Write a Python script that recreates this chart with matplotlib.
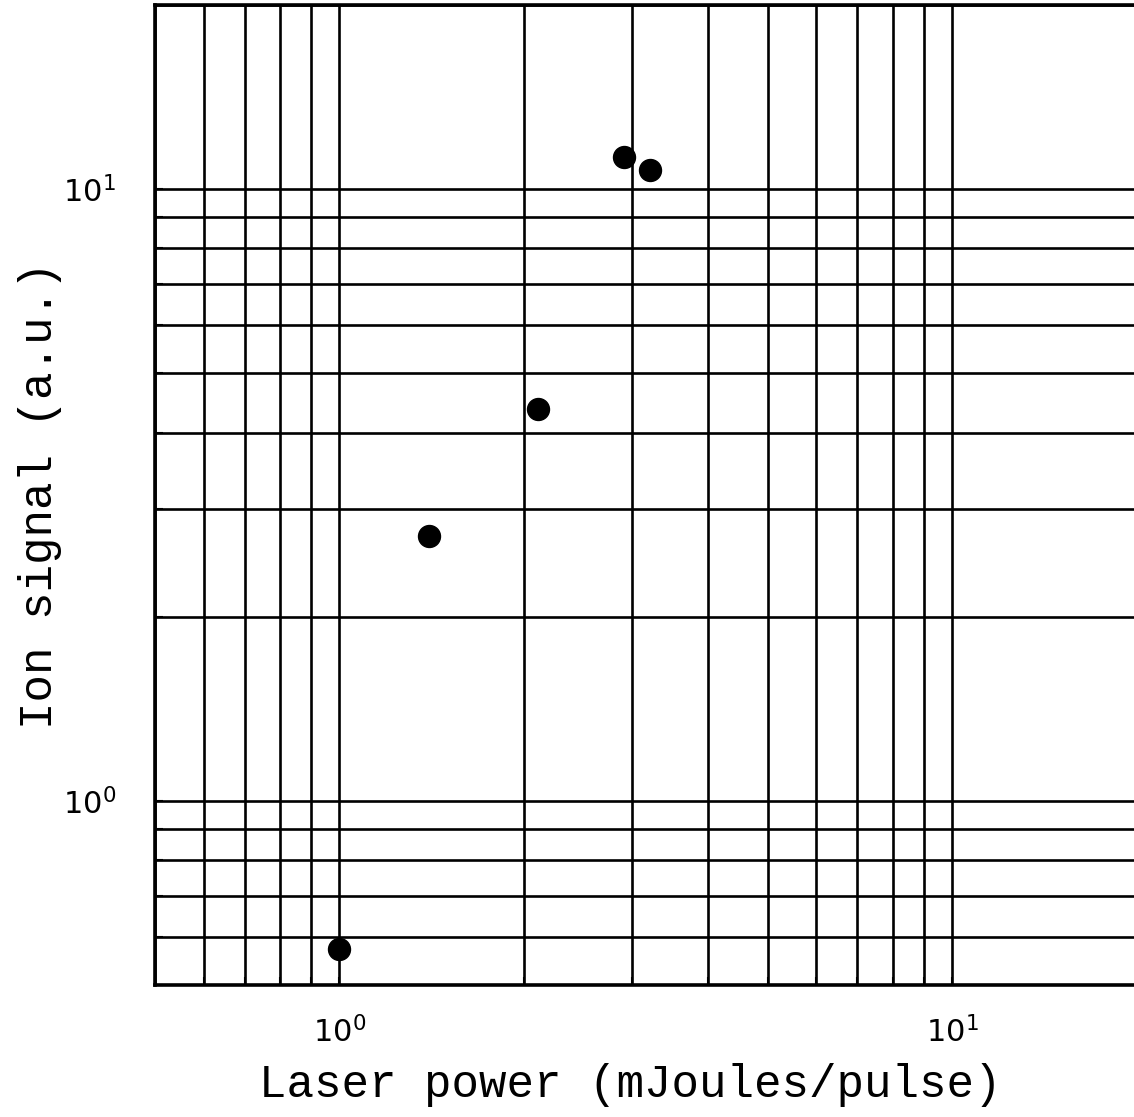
import matplotlib
matplotlib.use('Agg')
import matplotlib.pyplot as plt
from matplotlib.ticker import LogLocator, LogFormatterSciNotation, NullFormatter

# data
laser_power = [1.0, 1.40, 2.11, 2.91, 3.22]     # mJoules/pulse
ion_signal = [0.573, 2.71, 4.37, 11.3, 10.75]   # a.u.

x_range = [0.5, 20]
y_range = [0.5, 20]

plt.rcParams['mathtext.fontset'] = 'custom'
plt.rcParams['mathtext.rm'] = 'Liberation Sans'
plt.rcParams['mathtext.default'] = 'regular'


def main():
    fig = plt.figure(figsize=(11.34, 11.17), dpi=100)
    ax = fig.add_axes([0.1367, 0.1182, 0.8653, 0.8773])

    ax.set_xscale('log')
    ax.set_yscale('log')
    ax.set_xlim(x_range)
    ax.set_ylim(y_range)

    ax.scatter(laser_power, ion_signal, s=250, color='black', zorder=3,
               clip_on=False)

    for axis in (ax.xaxis, ax.yaxis):
        axis.set_major_locator(LogLocator(base=10))
        axis.set_minor_locator(LogLocator(base=10, subs=range(2, 10)))
        axis.set_major_formatter(LogFormatterSciNotation())
        axis.set_minor_formatter(NullFormatter())

    ax.grid(True, which='both', color='black', linewidth=1.9)
    ax.tick_params(which='both', direction='in', length=6, width=1.5)
    ax.tick_params(axis='x', which='major', pad=22, labelsize=22)
    ax.tick_params(axis='y', which='major', pad=28, labelsize=22)

    for side in ['left', 'bottom', 'top', 'right']:
        ax.spines[side].set_linewidth(2.6)

    ax.set_xlabel("Laser power (mJoules/pulse)", family='Liberation Mono',
                  fontsize=33, va='center')
    ax.set_ylabel("Ion signal (a.u.)", family='Liberation Mono',
                  fontsize=33, va='center')
    ax.xaxis.set_label_coords(0.484, -0.102)
    ax.yaxis.set_label_coords(-0.117, 0.5)

    fig.savefig('out.png', dpi=100)


if __name__ == '__main__':
    main()
